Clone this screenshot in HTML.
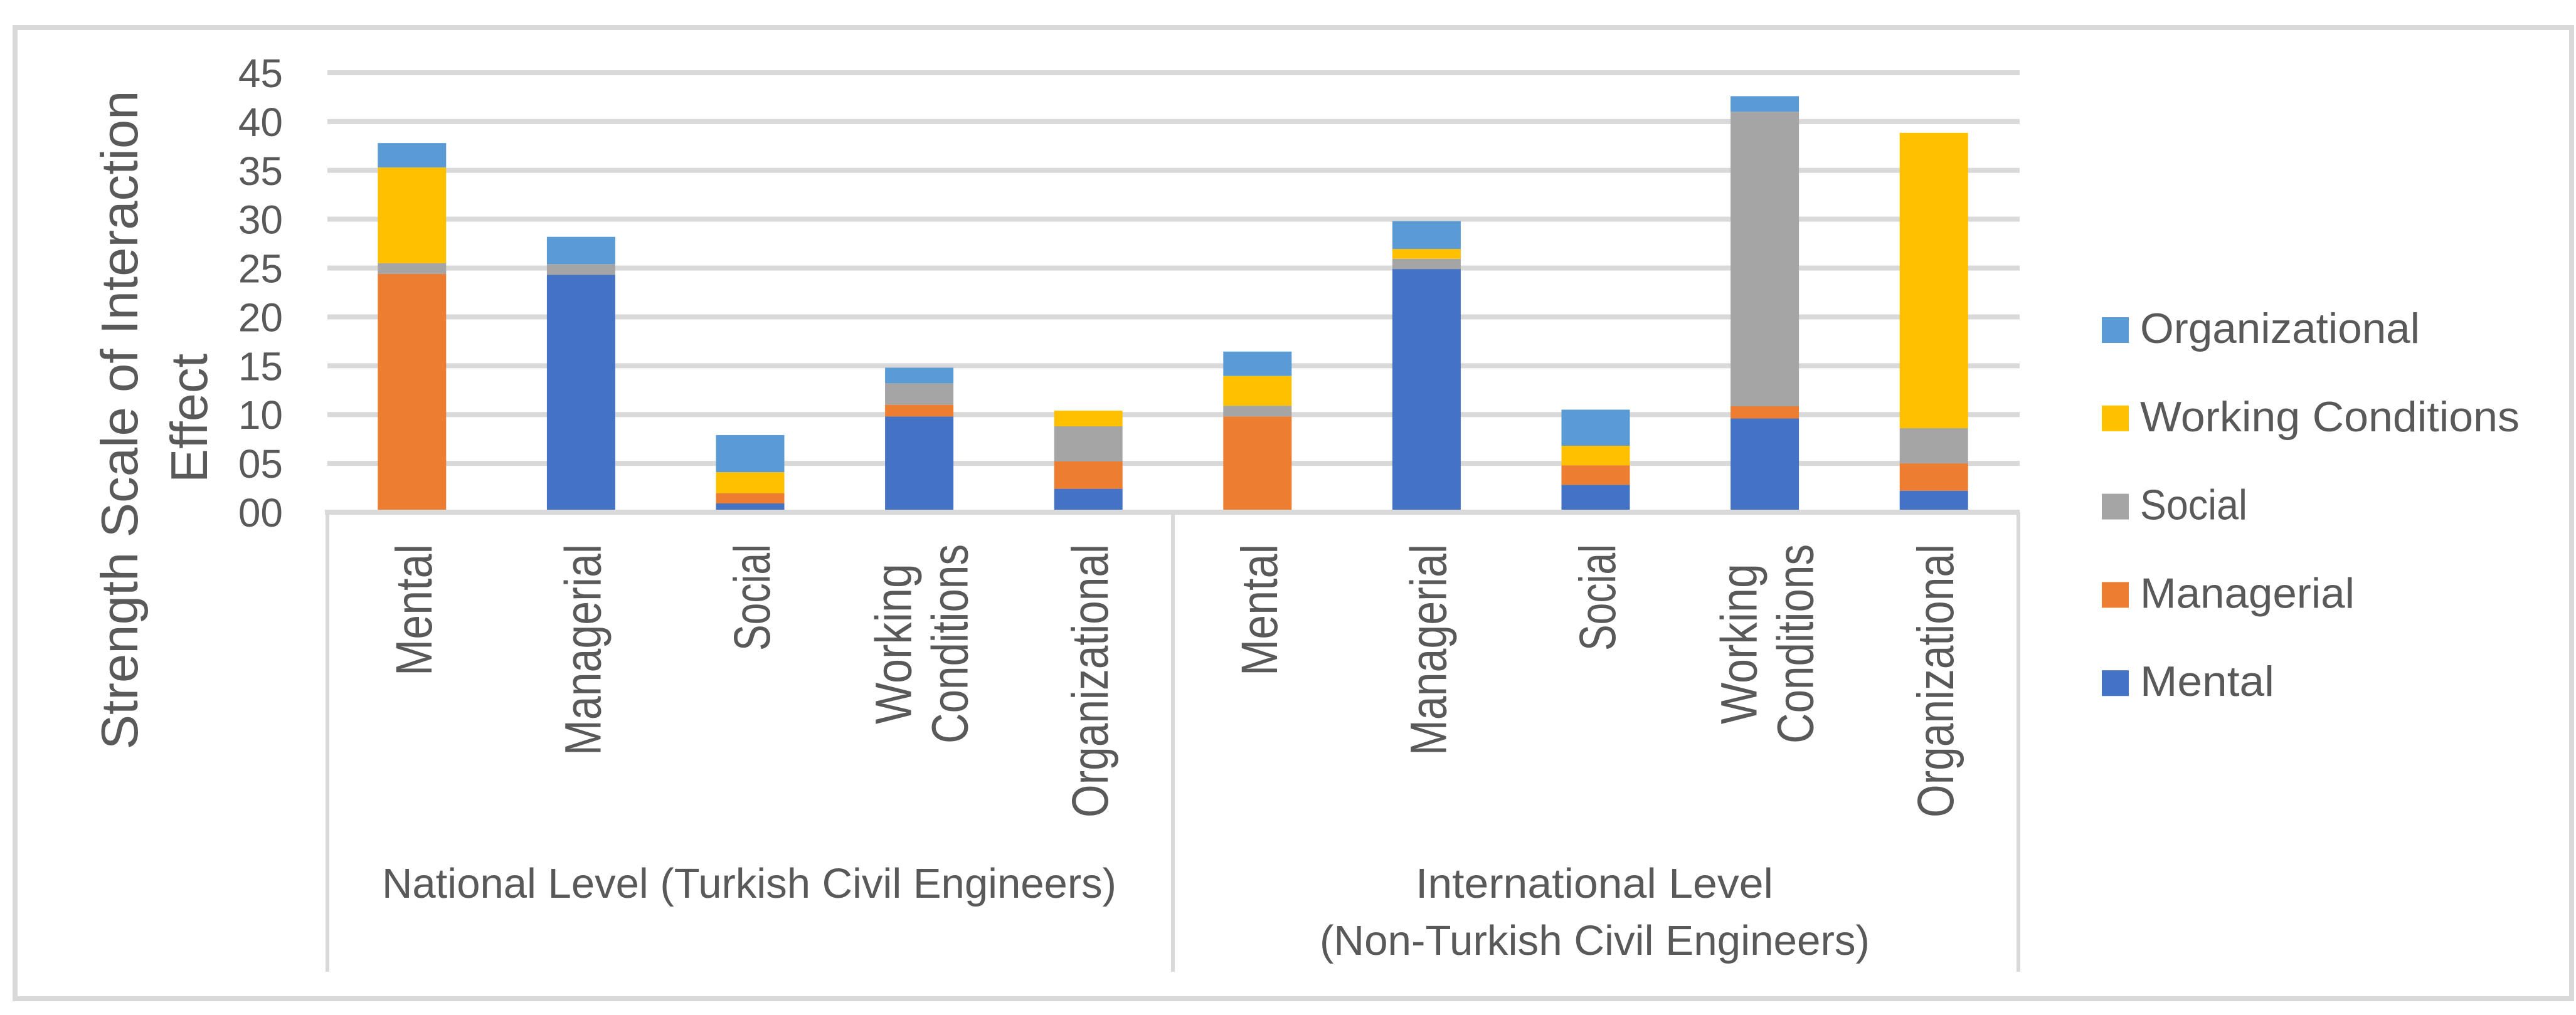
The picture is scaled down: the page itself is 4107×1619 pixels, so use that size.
<!DOCTYPE html>
<html><head><meta charset="utf-8"><style>
html,body{margin:0;padding:0;background:#fff;}
svg{display:block;}
text{font-family:"Liberation Sans",sans-serif;fill:#595959;}
</style></head><body>
<svg id="chart" width="4107" height="1619" viewBox="0 0 4107 1619" xmlns="http://www.w3.org/2000/svg">
<rect x="24" y="44" width="4076" height="1549" fill="#fff" stroke="#d9d9d9" stroke-width="8"/>
<g id="grid"></g>
<g id="bars"></g>
<g id="axis"></g>
<g id="yticks"></g>
<g id="xlabels"></g>
<text transform="translate(219,670) rotate(-90)" text-anchor="middle" font-size="83" textLength="1051" lengthAdjust="spacingAndGlyphs">Strength Scale of Interaction</text>
<text transform="translate(330,667) rotate(-90)" text-anchor="middle" font-size="83" textLength="206" lengthAdjust="spacingAndGlyphs">Effect</text>
<text x="609" y="1432" font-size="67" textLength="1171" lengthAdjust="spacingAndGlyphs">National Level (Turkish Civil Engineers)</text>
<text x="2257" y="1432" font-size="67" textLength="570" lengthAdjust="spacingAndGlyphs">International Level</text>
<text x="2104" y="1523" font-size="67" textLength="877" lengthAdjust="spacingAndGlyphs">(Non-Turkish Civil Engineers)</text>
<g id="legend"></g>
</svg>
<script>
const categories = ["Mental","Managerial","Social","Working Conditions","Organizational","Mental","Managerial","Social","Working Conditions","Organizational"];
const seriesNames = ["Mental","Managerial","Social","Working Conditions","Organizational"];
const mentalVals = [0, 24.3, 0.9, 9.8, 2.4, 0, 24.9, 2.8, 9.6, 2.2];
const managerialVals = [24.4, 0, 1.05, 1.2, 2.8, 9.8, 0, 2.0, 1.25, 2.8];
const socialVals = [1.1, 1.1, 0, 2.2, 3.6, 1.1, 1.05, 0, 30.15, 3.6];
const workingVals = [9.8, 0, 2.15, 0, 1.6, 3.05, 1.0, 2.0, 0, 30.25];
const orgVals = [2.5, 2.8, 3.8, 1.6, 0, 2.5, 2.85, 3.7, 1.6, 0];
const yTicks = [0,5,10,15,20,25,30,35,40,45];
const yTickLabels = ["00","05","10","15","20","25","30","35","40","45"];

const NS="http://www.w3.org/2000/svg";
const colors=["#4472c4","#ed7d31","#a5a5a5","#ffc000","#5b9bd5"];
const series=[mentalVals,managerialVals,socialVals,workingVals,orgVals];
const x0=522,x1=3218,y0=817,yTop=116;
const catW=(x1-x0)/categories.length;
function y(v){return y0-(v/45)*(y0-yTop);}
function xc(i){return x0+catW*(i+0.5);}
function mk(tag,attrs,parent){const e=document.createElementNS(NS,tag);for(const k in attrs)e.setAttribute(k,attrs[k]);parent.appendChild(e);return e;}

const grid=document.getElementById('grid');
yTicks.forEach(t=>{if(t===0)return;
  const l=mk('line',{x1:x0,x2:x1+2,y1:y(t),y2:y(t),stroke:'#d9d9d9','stroke-width':8},grid);
  
  
});
const yt=document.getElementById('yticks');
yTicks.forEach((t,i)=>{
  const tx=mk('text',{x:451,y:y(t)+23,'text-anchor':'end','font-size':64},yt);
  tx.textContent=yTickLabels[i];
  
  
});
const bars=document.getElementById('bars');
const bw=109;
categories.forEach((c,i)=>{
  let acc=0;
  series.forEach((s,k)=>{
    const v=s[i]; if(v<=0){return;}
    const r=mk('rect',{x:xc(i)-bw/2,y:y(acc+v),width:bw,height:y(acc)-y(acc+v),fill:colors[k]},bars);
    
    
    acc+=v;
  });
});
const ax=document.getElementById('axis');
const al=mk('line',{x1:x0-4,x2:x1+2,y1:y0,y2:y0,stroke:'#d9d9d9','stroke-width':8},ax);


[0,5,10].forEach(j=>{
  const vl=mk('line',{x1:x0+catW*j,x2:x0+catW*j,y1:y0,y2:1550,stroke:'#d9d9d9','stroke-width':6},ax);
  
  
});
const xl=document.getElementById('xlabels');
const lens={"Mental":210,"Managerial":337,"Social":170,"Organizational":436};
categories.forEach((c,i)=>{
  const cx=xc(i);
  if(c==="Working Conditions"){
    const a=mk('text',{transform:`translate(${cx-13},1027) rotate(-90)`,'text-anchor':'middle','font-size':82,textLength:256,lengthAdjust:'spacingAndGlyphs'},xl);
    a.textContent="Working";
    
    
    const b=mk('text',{transform:`translate(${cx+77},1027) rotate(-90)`,'text-anchor':'middle','font-size':82,textLength:318,lengthAdjust:'spacingAndGlyphs'},xl);
    b.textContent="Conditions";
    
    
  } else {
    const t=mk('text',{transform:`translate(${cx+31},868) rotate(-90)`,'text-anchor':'end','font-size':82,textLength:lens[c],lengthAdjust:'spacingAndGlyphs'},xl);
    t.textContent=c;
    
    
  }
});
const lg=document.getElementById('legend');
const legendOrder=[4,3,2,1,0];
const legLens=[214,342,171,605,446];
legendOrder.forEach((k,j)=>{
  const top=506+j*140.8;
  const r=mk('rect',{x:3351,y:top,width:43,height:41,fill:colors[k]},lg);
  
  
  const t=mk('text',{x:3412,y:top+41,'font-size':68,textLength:legLens[k],lengthAdjust:'spacingAndGlyphs'},lg);
  t.textContent=seriesNames[k];
  
  
});
</script>
</body></html>
